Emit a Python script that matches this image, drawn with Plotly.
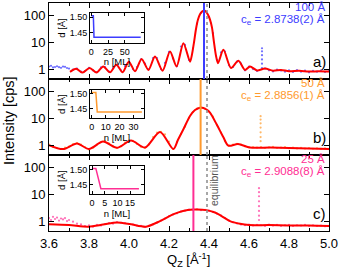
import plotly.graph_objects as go

# ---------------- data ----------------
# Panel a) 100 Å film
fit_q_a = [3.705, 3.736, 3.768, 3.803, 3.838, 3.871, 3.905, 3.937, 3.968, 3.999, 4.030, 4.063,
           4.097, 4.130, 4.168, 4.205, 4.238, 4.272, 4.305, 4.315, 4.325, 4.335, 4.345, 4.355,
           4.365, 4.375, 4.385, 4.395, 4.405, 4.415, 4.425, 4.435, 4.445, 4.472, 4.510, 4.547,
           4.580, 4.605, 4.640, 4.680, 4.720, 4.760, 4.800, 4.850, 4.900, 4.950, 5.000]
fit_i_a = [0.79, 1.03, 0.74, 1.10, 0.74, 1.26, 0.76, 1.45, 0.76, 1.90, 0.83, 2.40,
           0.93, 2.95, 0.87, 4.57, 1.26, 9.3, 1.90, 3.55, 10.0, 31.6, 70.8, 112,
           141, 151, 138, 107, 70.8, 35.5, 10.0, 3.16, 1.66, 5.25, 1.10, 2.04,
           0.93, 1.26, 0.89, 1.05, 0.87, 0.93, 0.83, 0.87, 0.81, 0.83, 0.81]
data_q_a = [3.60, 3.61, 3.62, 3.63, 3.64, 3.65, 3.66, 3.67, 3.68, 3.69, 3.70, 3.72, 3.74, 3.76,
            3.78, 3.80, 3.82, 3.84, 3.86, 3.88, 3.90, 3.92, 3.94, 3.96, 3.98, 4.00, 4.02, 4.04,
            4.06, 4.08, 4.10, 4.12, 4.14, 4.16, 4.18, 4.20, 4.22, 4.24, 4.26, 4.28, 4.30, 4.32,
            4.34, 4.36, 4.38, 4.40, 4.42, 4.44, 4.46, 4.48, 4.50, 4.52, 4.54, 4.56, 4.58, 4.60,
            4.62, 4.64, 4.68, 4.70, 4.72, 4.74, 4.76, 4.78, 4.80, 4.82, 4.84, 4.86, 4.88, 4.90,
            4.92, 4.94, 4.96, 4.98, 5.00,
            4.665, 4.665, 4.665, 4.665, 4.665, 4.665]
data_i_a = [1.25, 1.32, 1.15, 1.20, 1.28, 1.18, 1.12, 1.24, 1.22, 1.10, 1.05, 0.95, 1.05, 0.80,
            0.85, 1.12, 0.90, 0.78, 1.15, 1.20, 0.80, 1.10, 1.40, 0.90, 1.30, 1.85, 1.00, 1.20,
            2.30, 1.60, 1.00, 2.60, 2.60, 1.00, 1.70, 4.40, 2.50, 1.30, 7.0, 8.0, 2.2, 6.0,
            50, 125, 150, 90, 22, 2.2, 4.2, 4.5, 1.4, 1.2, 1.9, 1.6, 0.9, 1.25,
            1.0, 0.85, 1.05, 0.90, 0.82, 0.95, 0.88, 0.80, 0.90, 0.78, 0.92, 0.80, 0.88, 0.76,
            0.86, 0.80, 0.90, 0.78, 0.84,
            1.1, 1.6, 2.3, 3.3, 4.6, 6.0]

# Panel b) 50 Å film
fit_q_b = [3.600, 3.670, 3.740, 3.800, 3.870, 3.940, 4.010, 4.080, 4.155, 4.222, 4.245, 4.272,
           4.305, 4.330, 4.355, 4.388, 4.405, 4.438, 4.472, 4.497, 4.545, 4.605, 4.705, 4.800,
           4.900, 5.000]
fit_i_b = [1.00, 0.71, 1.15, 0.71, 1.35, 0.79, 1.48, 0.81, 3.09, 0.71, 1.58, 3.9,
           12.3, 20.4, 25.1, 21.4, 16.2, 6.0, 1.95, 0.95, 1.10, 0.81, 0.81, 0.78,
           0.74, 0.71]
data_q_b = [3.60, 3.62, 3.64, 3.66, 3.68, 3.70, 3.72, 3.74, 3.76, 3.78, 3.80, 3.82, 3.84, 3.86,
            3.88, 3.90, 3.92, 3.94, 3.96, 3.98, 4.00, 4.02, 4.04, 4.06, 4.08, 4.10, 4.12, 4.14,
            4.16, 4.18, 4.20, 4.22, 4.24, 4.26, 4.28, 4.30, 4.32, 4.34, 4.36, 4.38, 4.40, 4.42,
            4.44, 4.46, 4.48, 4.50, 4.52, 4.54, 4.56, 4.58, 4.60, 4.62, 4.64, 4.66, 4.68, 4.70,
            4.72, 4.74, 4.76, 4.78, 4.80, 4.82, 4.84, 4.86, 4.88, 4.90, 4.92, 4.94, 4.96, 4.98,
            5.00,
            4.658, 4.658, 4.658, 4.658, 4.658, 4.658, 4.658]
data_i_b = [1.05, 0.85, 0.78, 0.72, 0.80, 0.88, 1.10, 1.20, 1.05, 0.85, 0.68, 0.80, 1.05, 1.30,
            1.40, 1.15, 0.90, 0.78, 0.90, 1.25, 1.50, 1.45, 1.10, 0.85, 0.78, 1.05, 2.0, 2.9,
            3.1, 2.5, 1.35, 0.72, 1.3, 2.6, 4.9, 10.5, 17, 23, 25, 23, 18, 11.5,
            5.6, 2.9, 1.4, 0.95, 1.05, 1.12, 1.05, 0.90, 0.82, 0.85, 0.80, 0.84, 0.78, 0.82,
            0.86, 0.78, 0.80, 0.84, 0.76, 0.80, 0.75, 0.79, 0.74, 0.78, 0.73, 0.76, 0.72, 0.75,
            0.70,
            1.4, 2.0, 3.0, 4.5, 6.5, 9.0, 12.0]

# Panel c) 25 Å film
fit_q_c = [3.600, 3.700, 3.797, 3.870, 3.940, 4.010, 4.085, 4.155, 4.220, 4.270, 4.320, 4.388,
           4.430, 4.463, 4.505, 4.555, 4.600, 4.700, 4.800, 4.900, 5.000]
fit_i_c = [0.76, 0.71, 0.62, 0.74, 0.89, 0.76, 0.62, 1.00, 1.78, 2.40, 2.69, 2.57,
           2.09, 1.55, 1.00, 0.79, 0.71, 0.71, 0.69, 0.68, 0.65]
data_q_c = [3.60, 3.61, 3.62, 3.63, 3.64, 3.65, 3.66, 3.67, 3.68, 3.69, 3.70, 3.72, 3.74, 3.76,
            3.78, 3.80, 3.82, 3.84, 3.86, 3.88, 3.90, 3.92, 3.94, 3.96, 3.98, 4.00, 4.02, 4.04,
            4.06, 4.08, 4.10, 4.12, 4.14, 4.16, 4.18, 4.20, 4.22, 4.24, 4.26, 4.28, 4.30, 4.32,
            4.34, 4.36, 4.38, 4.40, 4.42, 4.44, 4.46, 4.48, 4.50, 4.52, 4.54, 4.56, 4.58, 4.60,
            4.62, 4.64, 4.66, 4.68, 4.70, 4.72, 4.74, 4.76, 4.78, 4.80, 4.82, 4.84, 4.86, 4.88,
            4.90, 4.92, 4.94, 4.96, 4.98, 5.00,
            4.650, 4.650, 4.650, 4.650, 4.650, 4.650, 4.650, 4.650]
data_i_c = [1.30, 1.10, 1.45, 1.20, 1.35, 1.05, 1.25, 1.15, 1.30, 1.00, 1.10, 0.95, 0.80, 0.75,
            0.65, 0.70, 0.62, 0.72, 0.68, 0.78, 0.85, 0.80, 0.92, 0.86, 0.84, 0.78, 0.74, 0.68,
            0.66, 0.60, 0.66, 0.75, 0.88, 1.05, 1.25, 1.55, 1.75, 1.95, 2.30, 2.45, 2.70, 2.60,
            2.75, 2.55, 2.65, 2.45, 2.20, 1.90, 1.60, 1.30, 1.05, 0.90, 0.82, 0.74, 0.70, 0.74,
            0.68, 0.72, 0.70, 0.66, 0.74, 0.68, 0.72, 0.66, 0.70, 0.72, 0.66, 0.70, 0.68, 0.72,
            0.65, 0.70, 0.66, 0.68, 0.64, 0.66,
            1.1, 1.6, 2.4, 3.6, 5.5, 8.5, 12.0, 17.0]

# Film peak positions and equilibrium position
peak_q_a = 4.375
peak_q_b = 4.358
peak_q_c = 4.322
equilibrium_q = 4.39

# Insets: layer spacing profile d(n)
inset_n_a = [0, 3, 4, 74]
inset_d_a = [1.505, 1.505, 1.436, 1.436]
inset_n_b = [0, 3, 4, 36]
inset_d_b = [1.505, 1.505, 1.439, 1.439]
inset_n_c = [0, 1.5, 3.5, 18.5]
inset_d_c = [1.505, 1.505, 1.437, 1.437]

labels_thick = ["100 Å", "50 Å", "25 Å"]
labels_ce = ["c<sub>e</sub> = 2.8738(2) Å", "c<sub>e</sub> = 2.8856(1) Å", "c<sub>e</sub> = 2.9088(8) Å"]
panel_letters = ["a)", "b)", "c)"]

x_ticks = [3.6, 3.8, 4.0, 4.2, 4.4, 4.6, 4.8, 5.0]
y_ticks = [1, 10, 100]

# ---------------- styling ----------------
BLUE = "#3c3cff"
ORANGE = "#ff9a2e"
PINK = "#ff2e93"
RED = "#ff0000"
FONT = "Liberation Sans, Arial, sans-serif"

W, H = 339, 268
ML, MR, MT, MB = 49, 10, 3, 37
PW, PH = W - ML - MR, H - MT - MB


def py(p):  # pixel y -> paper
    return (H - MB - p) / PH


def px(p):
    return (p - ML) / PW


fig = go.Figure()

panels = [  # (xaxis, yaxis, fit, data, color, light color, peak)
    ("x3", "y3", fit_q_a, fit_i_a, data_q_a, data_i_a, BLUE, "#6f6fff", peak_q_a),
    ("x2", "y2", fit_q_b, fit_i_b, data_q_b, data_i_b, ORANGE, "#ffb868", peak_q_b),
    ("x", "y", fit_q_c, fit_i_c, data_q_c, data_i_c, PINK, "#ff70b8", peak_q_c),
]

for xa, ya, fq, fi, dq, di, col, lcol, pk in panels:
    fig.add_trace(go.Scatter(x=dq, y=di, mode="markers", xaxis=xa, yaxis=ya,
                             marker=dict(size=2.2, color=lcol), showlegend=False))
    fig.add_trace(go.Scatter(x=fq, y=fi, mode="lines", xaxis=xa, yaxis=ya,
                             line=dict(color=RED, width=2, shape="spline", smoothing=0.8),
                             showlegend=False))
    fig.add_shape(type="line", xref=xa, yref=ya + " domain", x0=pk, x1=pk, y0=0, y1=1,
                  line=dict(color=col, width=2))
    fig.add_shape(type="line", xref=xa, yref=ya + " domain", x0=equilibrium_q, x1=equilibrium_q,
                  y0=0, y1=1, line=dict(color="#8a8a8a", width=1.5, dash="dot"))

insets = [
    ("x4", "y4", inset_n_a, inset_d_a, BLUE, [-2, 79], [0, 25, 50], 13.3, 42.7),
    ("x5", "y5", inset_n_b, inset_d_b, ORANGE, [-1.2, 37.5], [0, 10, 20, 30], 90, 118.3),
    ("x6", "y6", inset_n_c, inset_d_c, PINK, [-0.8, 20.5], [0, 5, 10, 15], 166, 194.3),
]
for xa, ya, n, d, col, *_ in insets:
    fig.add_trace(go.Scatter(x=n, y=d, mode="lines", xaxis=xa, yaxis=ya,
                             line=dict(color=col, width=1.5), showlegend=False))

axis_common = dict(showline=True, linecolor="black", linewidth=1, mirror="allticks",
                   ticks="inside", tickcolor="black", tickwidth=1, showgrid=False,
                   zeroline=False, automargin=False)

main_x = dict(axis_common, range=[3.6, 5.0], tickvals=x_ticks, ticklen=5,
              tickformat=".1f", tickfont=dict(size=13, color="black", family=FONT),
              minor=dict(dtick=0.1, tick0=3.6, ticks="inside", ticklen=3, tickcolor="black",
                         showgrid=False))
main_y = dict(axis_common, type="log", range=[-0.37, 2.47], tickvals=y_ticks,
              ticktext=[str(v) for v in y_ticks], ticklen=5,
              tickfont=dict(size=13, color="black", family=FONT))

hpan = PH / 3
layout = dict(
    width=W, height=H, template="none",
    margin=dict(l=ML, r=MR, t=MT, b=MB, pad=0),
    paper_bgcolor="white", plot_bgcolor="white",
    font=dict(family=FONT, color="black"),
    showlegend=False,
    xaxis=dict(main_x, domain=[0, 1], anchor="y"),
    yaxis=dict(main_y, domain=[0, 1 / 3], anchor="x"),
    xaxis2=dict(main_x, domain=[0, 1], anchor="y2", matches="x", showticklabels=False),
    yaxis2=dict(main_y, domain=[1 / 3, 2 / 3], anchor="x2"),
    xaxis3=dict(main_x, domain=[0, 1], anchor="y3", matches="x", showticklabels=False),
    yaxis3=dict(main_y, domain=[2 / 3, 1], anchor="x3"),
)

for i, (xa, ya, n, d, col, xr, xt, top, bot) in enumerate(insets):
    k = xa[1:]
    layout["xaxis" + k] = dict(axis_common, domain=[px(90), px(144)], anchor="y" + k,
                               range=xr, tickvals=xt, ticklen=3,
                               tickfont=dict(size=9, color="black", family=FONT),
                               title=dict(text="n [ML]", font=dict(size=9.5, family=FONT),
                                          standoff=0))
    layout["yaxis" + k] = dict(axis_common, domain=[py(bot), py(top)], anchor="x" + k,
                               range=[1.418, 1.513], tickvals=[1.45, 1.50], tickformat=".2f",
                               ticklen=3, tickfont=dict(size=9, color="black", family=FONT),
                               title=dict(text="d [Å]", font=dict(size=9.5, family=FONT),
                                          standoff=2))

fig.update_layout(**layout)

ann = []
colors = [BLUE, ORANGE, PINK]
tops = [MT, MT + hpan, MT + 2 * hpan]
for i in range(3):
    t = tops[i]
    ann.append(dict(text=labels_thick[i], x=px(327), y=py(t + 4), xref="paper", yref="paper",
                    xanchor="right", yanchor="middle", showarrow=False,
                    font=dict(size=11.5, color=colors[i], family=FONT)))
    ann.append(dict(text=labels_ce[i], x=px(327), y=py(t + 17), xref="paper", yref="paper",
                    xanchor="right", yanchor="middle", showarrow=False,
                    font=dict(size=11.5, color=colors[i], family=FONT)))
    ann.append(dict(text=panel_letters[i], x=px(328), y=py(t + 58.5), xref="paper", yref="paper",
                    xanchor="right", yanchor="middle", showarrow=False,
                    font=dict(size=15, color="black", family=FONT)))

ann.append(dict(text="equilibrium", x=px(214), y=py(181), xref="paper", yref="paper",
                textangle=-90, showarrow=False, xanchor="center", yanchor="middle",
                font=dict(size=10.5, color="#555555", family=FONT)))
ann.append(dict(text="Intensity [cps]", x=px(9), y=py(121), xref="paper", yref="paper",
                textangle=-90, showarrow=False, xanchor="center", yanchor="middle",
                font=dict(size=14.5, color="black", family=FONT)))
ann.append(dict(text="Q<sub>Z</sub> [Å<sup>-1</sup>]", x=px(188), y=py(260), xref="paper",
                yref="paper", showarrow=False, xanchor="center", yanchor="middle",
                font=dict(size=13, color="black", family=FONT)))
fig.update_layout(annotations=ann)

fig.write_html("out.html", config={"displayModeBar": False},
               post_script="document.body.style.margin='0';")
